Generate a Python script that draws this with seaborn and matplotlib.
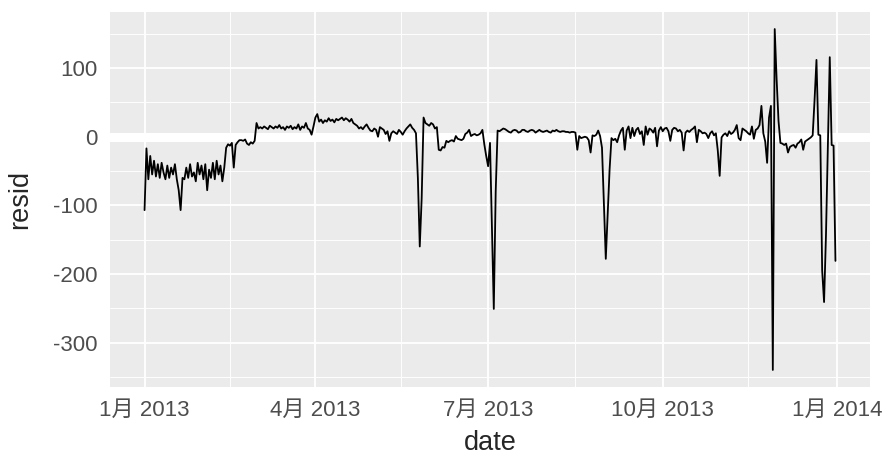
import numpy as np
import pandas as pd
import seaborn as sns
import matplotlib.pyplot as plt
import matplotlib.dates as mdates

# residuals per day, 2013 (one list per month)
jan = [-107, -17, -62, -28, -55, -35, -58, -40, -60, -38, -52, -62, -42, -60, -45, -55,
       -40, -62, -78, -107, -60, -62, -45, -60, -40, -58, -52, -65, -38, -55, -42]
feb = [-62, -40, -78, -48, -60, -38, -62, -35, -55, -42, -65, -45, -16, -11, -13, -9,
       -45, -12, -8, -5, -5, -6, -4, -10, -12, -8, -10, -6]
mar = [20, 12, 14, 12, 15, 13, 11, 16, 14, 12, 15, 13, 17, 12, 14, 10,
       15, 13, 16, 11, 14, 12, 18, 10, 15, 13, 20, 12, 10, 3, 15]
apr = [28, 33, 22, 25, 20, 24, 22, 27, 23, 25, 21, 26, 24, 26, 28, 24,
       27, 25, 22, 26, 20, 18, 16, 12, 14, 11, 15, 18, 13, 9]
may = [8, 12, 10, 0, 14, 12, 10, 4, 8, -6, 5, 8, 6, 4, 10, 7,
       3, 8, 12, 15, 18, 13, 10, 5, -60, -160, -90, 28, 20, 18, 16]
jun = [20, 18, 12, 14, -19, -20, -15, -16, -6, -8, -6, -5, -7, 1, -3, -4,
       -5, -3, 4, 6, 10, 1, 3, 4, 2, 3, 5, 10, -11, -28]
jul = [-43, -9, -131, -251, -80, 9, 8, 10, 12, 11, 9, 7, 6, 9, 10, 9,
       6, 7, 10, 10, 8, 7, 9, 10, 9, 6, 8, 10, 8, 7, 8]
aug = [9, 7, 6, 9, 8, 10, 8, 7, 8, 8, 7, 7, 6, 7, 7, 6,
       -19, 1, -2, -1, 0, -1, -5, -23, 2, 1, 3, 9, 1, -16, -97]
sep = [-178, -114, -48, -2, -5, -3, -8, 2, 9, 13, -19, 9, 15, -2, 13, 1,
       10, 13, 4, 8, -12, 15, 3, 12, 10, 6, 13, -14, 9, 14]
oct_ = [8, 12, 13, 8, -6, 10, 13, 12, 8, 10, 6, -20, 6, 9, 7, 10,
        12, 15, -8, 10, 8, 5, 6, 4, -2, 5, 8, 2, 5, -20, -57]
nov = [-1, 3, 5, 1, 8, 4, 6, 10, 17, -2, -5, 12, 10, 8, 5, 3,
       15, -3, 10, 12, 17, 45, 5, -7, -38, 28, 45, -340, 157, 84]
dec = [23, -9, -10, -12, -10, -23, -15, -13, -12, -16, -10, -8, -4, -19, -7, -5,
       -3, -1, 2, 54, 112, 3, 2, -195, -241, -144, -16, 116, -12, -13, -181]

resid = jan + feb + mar + apr + may + jun + jul + aug + sep + oct_ + nov + dec
dates = pd.date_range("2013-01-01", "2013-12-31", freq="D")
df = pd.DataFrame({"date": dates, "resid": resid})

tick_dates = pd.to_datetime(["2013-01-01", "2013-04-01", "2013-07-01", "2013-10-01", "2014-01-01"])
tick_labels = ["1月 2013", "4月 2013", "7月 2013", "10月 2013", "1月 2014"]
minor_dates = pd.to_datetime(["2013-02-15", "2013-05-16", "2013-08-16", "2013-11-15"])

sns.set_theme(style="darkgrid", rc={
    "axes.facecolor": "#EBEBEB",
    "grid.color": "white",
    "axes.unicode_minus": False,
    "xtick.major.size": 4,
    "ytick.major.size": 4,
    "xtick.color": "#333333",
    "ytick.color": "#333333",
})
plt.rcParams["font.family"] = ["Liberation Sans", "Noto Sans CJK SC"]

fig, ax = plt.subplots(figsize=(8.86, 4.74), dpi=100)
fig.subplots_adjust(left=110 / 886, right=870 / 886, top=1 - 12 / 474, bottom=1 - 387 / 474)

# white zero line under the data
ax.axhline(0, color="white", linewidth=6.5, zorder=1.5)
sns.lineplot(data=df, x="date", y="resid", color="black", linewidth=1.3, ax=ax, zorder=2)

ax.set_xticks(tick_dates)
ax.set_xticklabels(tick_labels)
ax.set_xticks(minor_dates, minor=True)
ax.set_yticks([-300, -200, -100, 0, 100])
ax.set_yticks([-350, -250, -150, -50, 50, 150], minor=True)
ax.grid(which="major", color="white", linewidth=1.3)
ax.grid(which="minor", color="white", linewidth=0.65)
ax.tick_params(axis="both", which="major", labelsize=16, labelcolor="#4D4D4D", pad=5, width=1.1)
ax.tick_params(axis="both", which="minor", length=0)

ax.set_xlabel("date", fontsize=19.5, labelpad=7)
ax.set_ylabel("resid", fontsize=19.5, labelpad=14)
for s in ax.spines.values():
    s.set_visible(False)

fig.savefig("out.png", dpi=100)
